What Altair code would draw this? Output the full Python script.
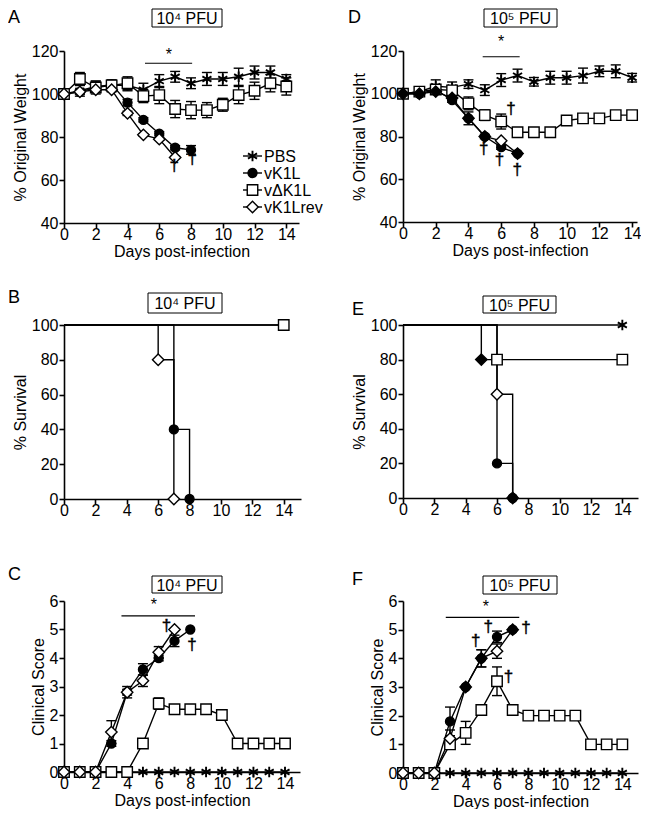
import altair as alt
import pandas as pd

days = list(range(15))
series_names = ["PBS", "vK1L", "vΔK1L", "vK1Lrev"]

# ---------- Panel A : weight, 10^4 PFU ----------
A_pbs = [100, 101.5, 103.5, 104, 104, 102, 106, 108, 105, 107, 107, 108, 110, 110, 107]
A_pbs_err = [0, 2.5, 2.5, 2.5, 2.5, 3, 3, 2.5, 2.5, 3, 3, 4, 3, 3, 2]
A_k1l = [100, 101, 103, 104.5, 96, 88, 81.5, 75, 74]
A_k1l_err = [0, 1, 1.5, 1.5, 1.5, 1, 1, 1, 2]
A_dk1l = [100, 107, 103, 104, 105, 99, 99.5, 93, 92.5, 92.5, 95, 99.5, 101.5, 105, 103.5]
A_dk1l_err = [0, 3, 3, 2.5, 3, 3, 4, 4, 4, 3.5, 3, 4, 4, 4, 4]
A_rev = [100, 101, 102, 102, 91, 81, 79, 70.5]
A_rev_err = [0, 1, 1, 1, 1, 0.5, 0.5, 0.5]
A_dagger_x = [6.94, 8.07]
A_dagger_y = [66.3, 70]
A_sig = [5.1, 8.07, 114.3]
A_star = [6.6, 118]

# ---------- Panel D : weight, 10^5 PFU ----------
D_pbs = [100, 101, 103.5, 103, 104.5, 101.7, 106.4, 108.5, 105.6, 107.5, 107.5, 108.5, 110.5, 110.5, 107.5]
D_pbs_err = [0, 2, 3, 2.5, 2, 2.5, 3, 3, 2, 3, 3, 3.5, 2.5, 3, 2]
D_k1l = [100, 100, 102, 97, 88.5, 80, 75, 72]
D_k1l_err = [0, 1, 1, 1, 3, 1, 1, 0]
D_dk1l = [100, 101, 102, 101.6, 95.5, 90, 87, 82, 82, 82, 87.5, 88.5, 88.5, 90, 90]
D_dk1l_err = [0, 2, 2, 2, 3, 2.5, 3.5, 0, 0, 0, 0, 0, 0, 0, 0]
D_rev = [100, 100, 101, 98, 88.5, 80, 78, 72]
D_rev_fill = ["black", "black", "black", "black", "black", "black", "white", "black"]
D_dagger_x = [6.6, 4.93, 5.9, 6.98]
D_dagger_y = [92.7, 74, 69, 64.5]
D_sig = [4.87, 7.13, 117.3]
D_star = [6.0, 124]

# ---------- Panel B : survival, 10^4 PFU ----------
B_pbs_day, B_pbs = [0, 14], [100, 100]
B_k1l_day, B_k1l = [0, 7, 8], [100, 40, 0]
B_dk1l_day, B_dk1l = [0, 14], [100, 100]
B_rev_day, B_rev = [0, 6, 7], [100, 80, 0]

# ---------- Panel E : survival, 10^5 PFU ----------
E_pbs_day, E_pbs = [0, 14], [100, 100]
E_k1l_day, E_k1l = [0, 6, 7], [100, 20, 0]
E_dk1l_day, E_dk1l = [0, 6, 14], [100, 80, 80]
E_rev_day, E_rev = [0, 5, 6, 7], [100, 80, 60, 0]
E_rev_fill = ["black", "black", "white", "black"]

# ---------- Panel C : clinical score, 10^4 PFU ----------
C_pbs = [0] * 15
C_k1l = [0, 0, 0, 1.0, 2.8, 3.6, 4.0, 4.6, 5.0]
C_k1l_err = [0, 0, 0, 0.1, 0.1, 0.2, 0.1, 0.2, 0]
C_dk1l = [0, 0, 0, 0, 0, 1.0, 2.4, 2.2, 2.2, 2.2, 2.0, 1, 1, 1, 1]
C_dk1l_err = [0, 0, 0, 0, 0, 0, 0.2, 0.1, 0.1, 0.1, 0, 0, 0, 0, 0]
C_rev = [0, 0, 0, 1.4, 2.8, 3.2, 4.2, 5.0]
C_rev_err = [0, 0, 0, 0.4, 0.2, 0.2, 0.2, 0]
C_dagger_x = [6.5, 8.1]
C_dagger_y = [5.14, 4.47]
C_sig = [3.64, 8.3, 5.48]
C_star = [5.7, 5.86]

# ---------- Panel F : clinical score, 10^5 PFU ----------
F_pbs = [0] * 15
F_k1l = [0, 0, 0, 1.8, 3.0, 4.0, 4.75, 5.0]
F_k1l_err = [0, 0, 0, 0.5, 0, 0.3, 0.2, 0]
F_dk1l = [0, 0, 0, 1.0, 1.4, 2.2, 3.2, 2.2, 2.0, 2.0, 2.0, 2.0, 1, 1, 1]
F_dk1l_err = [0, 0, 0, 0.1, 0.4, 0.1, 0.5, 0.1, 0, 0, 0, 0, 0, 0, 0]
F_rev = [0, 0, 0, 1.2, 3.0, 4.0, 4.25, 5.0]
F_rev_err = [0, 0, 0, 0.3, 0, 0.3, 0.25, 0]
F_rev_fill = ["white", "white", "white", "white", "black", "black", "white", "black"]
F_dagger_x = [4.65, 5.44, 7.85, 6.74]
F_dagger_y = [4.6, 5.1, 5.05, 3.35]
F_sig = [2.73, 7.42, 5.43]
F_star = [5.29, 5.8]

FONT = "Liberation Sans"
ASTERISK = "M0,-1L0,1M-0.866,-0.5L0.866,0.5M-0.866,0.5L0.866,-0.5"
SHAPES = {"PBS": ASTERISK, "vK1L": "circle", "vΔK1L": "square", "vK1Lrev": "diamond"}
SIZES = {"PBS": 110, "vK1L": 80, "vΔK1L": 110, "vK1Lrev": 130}
FILLS = {"PBS": "black", "vK1L": "black", "vΔK1L": "white", "vK1Lrev": "white"}
LW = 1.4


def mk(name, vals, errs=None, fills=None, xs=None, survival=False):
    n = len(vals)
    xs = xs if xs is not None else days[:n]
    errs = errs if errs is not None else [0] * n
    fills = fills if fills is not None else [FILLS[name]] * n
    return pd.DataFrame({
        "day": xs, "v": vals, "err": errs, "series": name, "fill": fills,
        "lo": [v - e for v, e in zip(vals, errs)],
        "hi": [v + e for v, e in zip(vals, errs)],
        "mark": [(d > 0) if survival else True for d in xs],
    })


def panel(series, xdom, ydom, yticks, width, height, ytitle, xtitle, letter, letter_xy,
          title, box, step=False, daggers=None, sig=None, star=None, legend=False):
    df = pd.concat(series, ignore_index=True)
    xscale = alt.Scale(domain=xdom, nice=False, zero=False)
    yscale = alt.Scale(domain=ydom, nice=False, zero=False)
    xaxis = alt.Axis(values=list(range(0, 15, 2)), title=xtitle)
    yaxis = alt.Axis(values=yticks, title=ytitle)

    def X(f):
        return alt.X(f, type="quantitative", scale=xscale, axis=xaxis)

    def Y(f):
        return alt.Y(f, type="quantitative", scale=yscale, axis=yaxis)

    layers = []
    layers.append(alt.Chart(df).mark_line(
        color="black", strokeWidth=LW, interpolate="step-after" if step else "linear"
    ).encode(X("day"), Y("v"), detail="series:N", order="day:Q"))

    edf = df[df.err > 0]
    if len(edf):
        layers.append(alt.Chart(edf).mark_rule(color="black", strokeWidth=LW).encode(
            X("day"), Y("lo"), y2="hi"))
        for f in ["lo", "hi"]:
            layers.append(alt.Chart(edf).mark_tick(
                orient="horizontal", size=10, thickness=LW, color="black", opacity=1
            ).encode(X("day"), Y(f)))

    pts = df[df.mark]
    for name in series_names:
        p = pts[pts.series == name]
        if not len(p):
            continue
        if name == "PBS":
            m = alt.Chart(p).mark_point(shape=SHAPES[name], size=SIZES[name], filled=False,
                                        stroke="black", strokeWidth=1.9, opacity=1)
            layers.append(m.encode(X("day"), Y("v")))
        else:
            m = alt.Chart(p).mark_point(shape=SHAPES[name], size=SIZES[name], filled=True,
                                        stroke="black", strokeWidth=LW, opacity=1)
            layers.append(m.encode(X("day"), Y("v"), fill=alt.Fill("fill:N", scale=None)))

    if daggers:
        ddf = pd.DataFrame({"x": daggers[0], "y": daggers[1], "t": "†"})
        layers.append(alt.Chart(ddf).mark_text(
            fontSize=17, font=FONT, baseline="middle", fill="black", stroke="black",
            strokeWidth=0.45, opacity=0.99
        ).encode(X("x"), Y("y"), text="t:N"))
    if sig:
        sdf = pd.DataFrame({"x0": [sig[0]], "x1": [sig[1]], "y": [sig[2]]})
        layers.append(alt.Chart(sdf).mark_rule(color="black", strokeWidth=1.2).encode(
            X("x0"), Y("y"), x2="x1"))
        tdf = pd.DataFrame({"x": [star[0]], "y": [star[1]], "t": "*"})
        layers.append(alt.Chart(tdf).mark_text(fontSize=16, font=FONT, baseline="middle",
                                               color="black").encode(X("x"), Y("y"), text="t:N"))

    tdf = pd.DataFrame({"t": [title]})
    layers.append(alt.Chart(tdf).mark_rect(fill="white", stroke="black", strokeWidth=1).encode(
        x=alt.value(box[0]), x2=alt.value(box[1]), y=alt.value(box[2]), y2=alt.value(box[3])))
    layers.append(alt.Chart(tdf).mark_text(fontSize=16, font=FONT, baseline="middle",
                                           align="center", color="black").encode(
        x=alt.value((box[0] + box[1]) / 2), y=alt.value((box[2] + box[3]) / 2 + 1), text="t:N"))
    ldf = pd.DataFrame({"t": [letter]})
    layers.append(alt.Chart(ldf).mark_text(fontSize=18, font=FONT, baseline="top",
                                           align="left", color="black").encode(
        x=alt.value(letter_xy[0]), y=alt.value(letter_xy[1]), text="t:N"))

    if legend:
        for i, name in enumerate(series_names):
            yy = 105 + 17 * i
            one = pd.DataFrame({"t": [name]})
            layers.append(alt.Chart(one).mark_rule(color="black", strokeWidth=LW).encode(
                x=alt.value(179), x2=alt.value(198), y=alt.value(yy)))
            if name == "PBS":
                mm = alt.Chart(one).mark_point(shape=SHAPES[name], size=SIZES[name], filled=False,
                                               stroke="black", strokeWidth=1.9, opacity=1)
            else:
                mm = alt.Chart(one).mark_point(shape=SHAPES[name], size=SIZES[name], filled=True,
                                               fill=FILLS[name], stroke="black",
                                               strokeWidth=LW, opacity=1)
            layers.append(mm.encode(x=alt.value(188.5), y=alt.value(yy)))
            layers.append(alt.Chart(one).mark_text(fontSize=16, font=FONT, baseline="middle",
                                                   align="left", color="black").encode(
                x=alt.value(200), y=alt.value(yy + 1), text="t:N"))

    return alt.layer(*layers).properties(width=width, height=height)


A = panel([mk("PBS", A_pbs, A_pbs_err), mk("vK1L", A_k1l, A_k1l_err),
           mk("vΔK1L", A_dk1l, A_dk1l_err), mk("vK1Lrev", A_rev, A_rev_err)],
          [0, 14.8], [40, 120], [40, 60, 80, 100, 120], 235, 172,
          "% Original Weight", "Days post-infection", "A", (-56, -42), "10⁴ PFU",
          (88, 158, -42, -24), daggers=(A_dagger_x, A_dagger_y), sig=A_sig, star=A_star,
          legend=True)

B = panel([mk("PBS", B_pbs, xs=B_pbs_day, survival=True),
           mk("vK1L", B_k1l, xs=B_k1l_day, survival=True),
           mk("vΔK1L", B_dk1l, xs=B_dk1l_day, survival=True),
           mk("vK1Lrev", B_rev, xs=B_rev_day, survival=True)],
          [0, 15.1], [0, 100], [0, 20, 40, 60, 80, 100], 237, 174,
          "% Survival", None, "B", (-56, -36), "10⁴ PFU", (84, 158, -32, -12), step=True)

C = panel([mk("PBS", C_pbs), mk("vK1L", C_k1l, C_k1l_err),
           mk("vΔK1L", C_dk1l, C_dk1l_err), mk("vK1Lrev", C_rev, C_rev_err)],
          [0, 14.95], [0, 6], [0, 1, 2, 3, 4, 5, 6], 236, 171,
          "Clinical Score", "Days post-infection", "C", (-56, -35), "10⁴ PFU",
          (88, 158, -25, -8), daggers=(C_dagger_x, C_dagger_y), sig=C_sig, star=C_star)

D = panel([mk("PBS", D_pbs, D_pbs_err), mk("vK1L", D_k1l, D_k1l_err),
           mk("vΔK1L", D_dk1l, D_dk1l_err), mk("vK1Lrev", D_rev, fills=D_rev_fill)],
          [0, 14.3], [40, 120], [40, 60, 80, 100, 120], 234, 171,
          "% Original Weight", "Days post-infection", "D", (-55, -42), "10⁵ PFU",
          (81, 154, -42, -24), daggers=(D_dagger_x, D_dagger_y), sig=D_sig, star=D_star)

E = panel([mk("PBS", E_pbs, xs=E_pbs_day, survival=True),
           mk("vK1L", E_k1l, xs=E_k1l_day, survival=True),
           mk("vΔK1L", E_dk1l, xs=E_dk1l_day, survival=True),
           mk("vK1Lrev", E_rev, xs=E_rev_day, fills=E_rev_fill, survival=True)],
          [0, 15.0], [0, 100], [0, 20, 40, 60, 80, 100], 235, 173,
          "% Survival", None, "E", (-51, -24), "10⁵ PFU", (80, 153, -29, -12), step=True)

F = panel([mk("PBS", F_pbs), mk("vK1L", F_k1l, F_k1l_err),
           mk("vΔK1L", F_dk1l, F_dk1l_err), mk("vK1Lrev", F_rev, F_rev_err, fills=F_rev_fill)],
          [0, 15.0], [0, 6], [0, 1, 2, 3, 4, 5, 6], 235, 172,
          "Clinical Score", "Days post-infection", "F", (-51, -30), "10⁵ PFU",
          (80, 154, -25, -7), daggers=(F_dagger_x, F_dagger_y), sig=F_sig, star=F_star)

chart = alt.concat(A, D, B, E, C, F, columns=2,
                   spacing=alt.RowColnumber(row=102, column=102),
                   bounds="flush").properties(
    padding=0
).configure(font=FONT).configure_view(stroke=None).configure_axis(
    domainColor="black", domainWidth=1.6, tickColor="black", tickWidth=1.6, tickSize=5,
    labelColor="black", labelFontSize=16, labelFont=FONT, labelFlush=False,
    labelPadding=1, titleColor="black", titleFontSize=16, titleFont=FONT,
    titleFontWeight="normal", titlePadding=3, grid=False, labelOverlap=False
).configure_axisX(labelPadding=-2, titlePadding=1)

chart.save("out.html", embed_options={"renderer": "svg", "actions": False})
